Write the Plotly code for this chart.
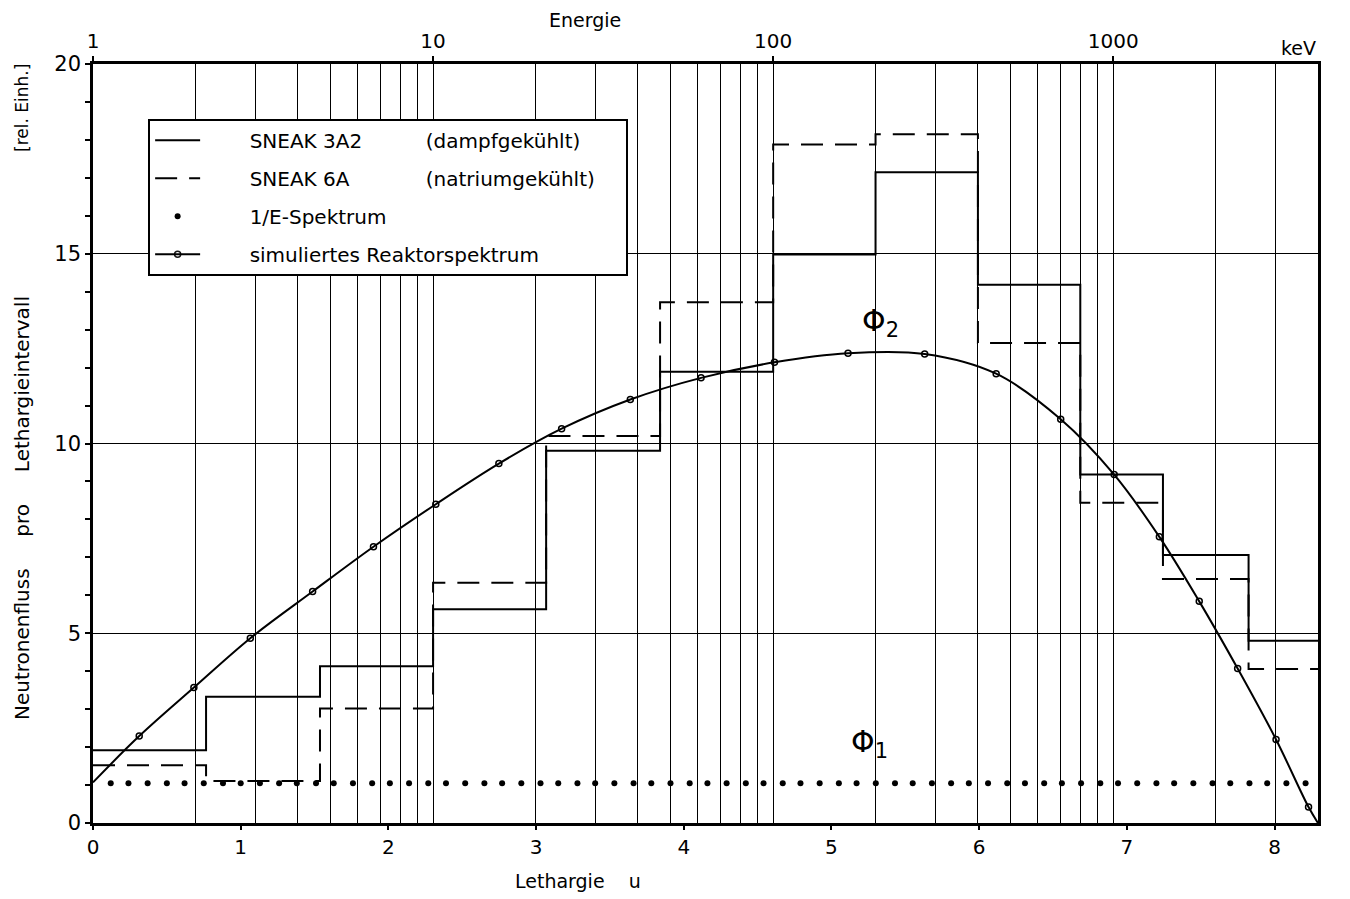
import math
import plotly.graph_objects as go

# Group boundaries of the few-group structure (keV) and flux per lethargy interval
group_edges_kev = [1, 2.15, 4.65, 10, 21.5, 46.5, 100, 200, 400, 800, 1400, 2500, 4000]
sneak_3a2 = [1.92, 3.33, 4.13, 5.63, 9.81, 11.89, 14.98, 17.15, 14.18, 9.18, 7.06, 4.80]
sneak_6a = [1.52, 1.11, 3.02, 6.33, 10.20, 13.72, 17.88, 18.15, 12.65, 8.44, 6.43, 4.06]

# Simulated reactor spectrum, lethargy u and flux
sim_u = [0.0, 0.313, 0.683, 1.065, 1.487, 1.899, 2.321, 2.748, 3.173, 3.638, 4.117,
         4.614, 5.112, 5.631, 6.115, 6.552, 6.914, 7.220, 7.490, 7.750, 8.010, 8.230, 8.294]
sim_flux = [1.07, 2.29, 3.57, 4.87, 6.10, 7.28, 8.40, 9.47, 10.39, 11.16, 11.73,
            12.14, 12.38, 12.36, 11.84, 10.64, 9.18, 7.54, 5.84, 4.07, 2.20, 0.42, 0.0]

# 1/E spectrum: constant flux per lethargy, plotted as a row of dots
one_over_e_u = [0.12, 0.24, 0.37, 0.50, 0.62, 0.75, 0.88, 1.00, 1.13, 1.26, 1.38, 1.51,
                1.63, 1.76, 1.89, 2.01, 2.14, 2.27, 2.39, 2.52, 2.65, 2.77, 2.90, 3.03,
                3.15, 3.28, 3.40, 3.53, 3.66, 3.78, 3.91, 4.04, 4.16, 4.29, 4.42, 4.54,
                4.67, 4.79, 4.92, 5.05, 5.17, 5.30, 5.43, 5.55, 5.68, 5.81, 5.93, 6.06,
                6.19, 6.31, 6.44, 6.56, 6.69, 6.82, 6.94, 7.07, 7.20, 7.32, 7.45, 7.58,
                7.70, 7.83, 7.95, 8.08, 8.21]
one_over_e_level = 1.05

# Axis ticks
u_ticks = [0, 1, 2, 3, 4, 5, 6, 7, 8]
energy_decades = [1, 10, 100, 1000]
energy_decade_labels = ["1", "10", "100", "1000"]
energy_minor = [m * d for d in (1, 10, 100) for m in range(2, 10)] + [2000, 3000]

E_MAX = 4000.0
U_MAX = math.log(E_MAX)
FONT = "DejaVu Sans"
NB = "\u00a0"
LEAD = NB * 7

fig = go.Figure()

fig.add_trace(go.Scatter(
    x=group_edges_kev, y=sneak_3a2 + [sneak_3a2[-1]], xaxis="x2", yaxis="y",
    mode="lines", line=dict(shape="hv", color="black", width=2),
    name=LEAD + "SNEAK 3A2" + NB * 10 + "(dampfgekühlt)", legendgroup="a",
))
fig.add_trace(go.Scatter(
    x=group_edges_kev, y=sneak_6a + [sneak_6a[-1]], xaxis="x2", yaxis="y",
    mode="lines", line=dict(shape="hv", color="black", width=2, dash="22px,12px"),
    name=LEAD + "SNEAK 6A" + NB * 12 + "(natriumgekühlt)" + NB * 4, legendgroup="b",
))
fig.add_trace(go.Scatter(
    x=one_over_e_u, y=[one_over_e_level] * len(one_over_e_u),
    mode="markers", marker=dict(symbol="circle", size=6, color="black"),
    name=LEAD + "1/E-Spektrum", legendgroup="c",
))
# endpoints of the curve carry no circle
sim_marker_opacity = [0] + [1] * (len(sim_u) - 2) + [0]
fig.add_trace(go.Scatter(
    x=sim_u, y=sim_flux, mode="lines+markers",
    line=dict(shape="spline", smoothing=1.0, color="black", width=2),
    marker=dict(symbol="circle-open", size=6, color="black",
                opacity=sim_marker_opacity, line=dict(width=1.5)),
    name=LEAD + "simuliertes Reaktorspektrum", legendgroup="d",
))

fig.update_layout(
    width=1350, height=899,
    margin=dict(l=93, r=32, t=64, b=76),
    paper_bgcolor="white", plot_bgcolor="white",
    font=dict(family=FONT, size=18, color="black"),
    showlegend=True,
    legend=dict(
        x=0.045, y=0.928, xanchor="left", yanchor="top",
        bgcolor="white", bordercolor="black", borderwidth=2,
        font=dict(family=FONT, size=20, color="black"),
        itemwidth=45, tracegroupgap=9,
    ),
    xaxis=dict(
        range=[0, U_MAX], tickmode="array", tickvals=u_ticks,
        ticks="outside", ticklen=4, tickwidth=1.5, tickcolor="black",
        showgrid=False, zeroline=False,
        showline=True, linewidth=2.5, linecolor="black",
        tickfont=dict(family=FONT, size=20),
    ),
    xaxis2=dict(
        type="log", range=[0, math.log10(E_MAX)], overlaying="x", side="top", anchor="y",
        tickmode="array", tickvals=energy_decades, ticktext=energy_decade_labels,
        ticks="outside", ticklen=5, tickwidth=1.5, tickcolor="black",
        showgrid=True, gridcolor="black", gridwidth=1,
        minor=dict(tickmode="array", tickvals=energy_minor, showgrid=True,
                   gridcolor="black", gridwidth=1, ticks=""),
        showline=True, linewidth=2.5, linecolor="black", zeroline=False,
        tickfont=dict(family=FONT, size=20),
    ),
    yaxis=dict(
        range=[0, 20], tickmode="linear", tick0=0, dtick=5,
        ticks="outside", ticklen=5, tickwidth=1.5, tickcolor="black",
        showgrid=True, gridcolor="black", gridwidth=1, zeroline=False,
        minor=dict(dtick=1, ticks="outside", ticklen=5, tickcolor="black", showgrid=False),
        showline=True, linewidth=2.5, linecolor="black", mirror=True,
        tickfont=dict(family=FONT, size=21),
    ),
)

annotations = [
    dict(text="Energie", xref="paper", yref="paper", x=0.402, y=1.0, yshift=57,
         showarrow=False, font=dict(size=19)),
    dict(text="keV", xref="paper", yref="paper", x=1.0, y=1.0, xanchor="right",
         yanchor="bottom", yshift=3, showarrow=False, font=dict(size=19)),
    dict(text="Lethargie" + NB * 4 + "u", xref="paper", yref="paper", x=0.396, y=0.0,
         yanchor="top", yshift=-45, showarrow=False, font=dict(size=19)),
    dict(text="Neutronenfluss" + NB * 5 + "pro" + NB * 5 + "Lethargieintervall",
         xref="paper", yref="paper", x=0.0, y=0.415, xanchor="center", yanchor="middle",
         xshift=-71, textangle=-90, showarrow=False, font=dict(size=20)),
    dict(text="[rel. Einh.]", xref="paper", yref="paper", x=0.0, y=1.0,
         xanchor="center", yanchor="top", xshift=-71, yshift=2, textangle=-90,
         showarrow=False, font=dict(size=17)),
    dict(text="Φ<sub>2</sub>", xref="x", yref="y", x=5.33, y=13.2,
         showarrow=False, font=dict(size=30)),
    dict(text="Φ<sub>1</sub>", xref="x", yref="y", x=5.26, y=2.1,
         showarrow=False, font=dict(size=30)),
]
fig.update_layout(annotations=annotations)

fig.write_html("out.html")
